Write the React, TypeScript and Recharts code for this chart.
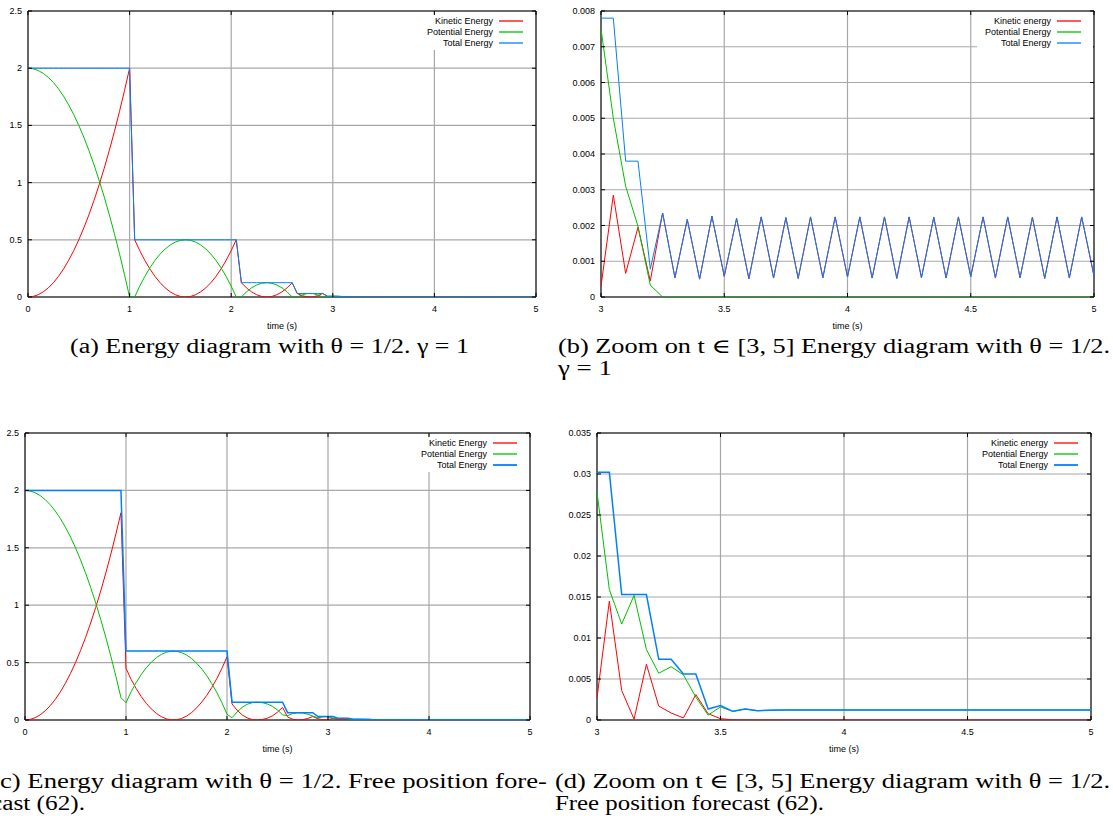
import { CartesianGrid, Legend, Line, LineChart, ReferenceArea, XAxis, YAxis } from "recharts"

// sample times (s), step 0.05
const timeEarly = [
  0, 0.05, 0.1, 0.15, 0.2, 0.25, 0.3, 0.35, 0.4, 0.45, 0.5, 0.55, 0.6, 0.65, 0.7, 0.75, 0.8, 0.85, 0.9, 0.95,
  1, 1.05, 1.1, 1.15, 1.2, 1.25, 1.3, 1.35, 1.4, 1.45, 1.5, 1.55, 1.6, 1.65, 1.7, 1.75, 1.8, 1.85, 1.9, 1.95,
  2, 2.05, 2.1, 2.15, 2.2, 2.25, 2.3, 2.35, 2.4, 2.45, 2.5, 2.55, 2.6, 2.65, 2.7, 2.75, 2.8, 2.85, 2.9, 2.95,
]
const timeZoom = [
  3, 3.05, 3.1, 3.15, 3.2, 3.25, 3.3, 3.35, 3.4, 3.45, 3.5, 3.55, 3.6, 3.65, 3.7, 3.75, 3.8, 3.85, 3.9, 3.95,
  4, 4.05, 4.1, 4.15, 4.2, 4.25, 4.3, 4.35, 4.4, 4.45, 4.5, 4.55, 4.6, 4.65, 4.7, 4.75, 4.8, 4.85, 4.9, 4.95, 5,
]

// (a) gamma = 1, t in [0, 3)
const kineticA = [
  0, 0.005, 0.02, 0.045, 0.08, 0.125, 0.18, 0.245, 0.32, 0.405, 0.5, 0.605, 0.72, 0.845, 0.98, 1.125, 1.28, 1.445, 1.62, 1.805,
  2, 0.5, 0.405, 0.32, 0.245, 0.18, 0.125, 0.08, 0.045, 0.02, 0.005, 0, 0.005, 0.02, 0.045, 0.08, 0.125, 0.18, 0.245, 0.32,
  0.405, 0.5, 0.125, 0.08, 0.045, 0.02, 0.005, 0, 0.005, 0.02, 0.045, 0.08, 0.125, 0.031, 0.011, 0.001, 0.001, 0.011, 0.031, 0.0033,
]
const potentialA = [
  2, 1.995, 1.98, 1.955, 1.92, 1.875, 1.82, 1.755, 1.68, 1.595, 1.5, 1.395, 1.28, 1.155, 1.02, 0.875, 0.72, 0.555, 0.38, 0.195,
  0, 0, 0.095, 0.18, 0.255, 0.32, 0.375, 0.42, 0.455, 0.48, 0.495, 0.5, 0.495, 0.48, 0.455, 0.42, 0.375, 0.32, 0.255, 0.18,
  0.095, 0, 0, 0.045, 0.08, 0.105, 0.12, 0.125, 0.12, 0.105, 0.08, 0.045, 0, 0, 0.02, 0.03, 0.03, 0.02, 0, 0.0045,
]
const totalA = [
  2, 2, 2, 2, 2, 2, 2, 2, 2, 2, 2, 2, 2, 2, 2, 2, 2, 2, 2, 2,
  2, 0.5, 0.5, 0.5, 0.5, 0.5, 0.5, 0.5, 0.5, 0.5, 0.5, 0.5, 0.5, 0.5, 0.5, 0.5, 0.5, 0.5, 0.5, 0.5,
  0.5, 0.5, 0.125, 0.125, 0.125, 0.125, 0.125, 0.125, 0.125, 0.125, 0.125, 0.125, 0.125, 0.031, 0.031, 0.031, 0.031, 0.031, 0.031, 0.0078,
]

// (b) zoom of (a) on [3, 5]
const kineticB = [
  0.0003, 0.00285, 0.00066, 0.00195, 0.00045, 0.00235, 0.00054, 0.00217, 0.0005, 0.00226, 0.00058, 0.0022, 0.00051, 0.00224,
  0.00053, 0.00222, 0.00052, 0.00224, 0.00054, 0.00224, 0.00056, 0.00224, 0.00053, 0.00224, 0.00052, 0.00224, 0.00054, 0.00223,
  0.00053, 0.00224, 0.00057, 0.00224, 0.00053, 0.00224, 0.00054, 0.00223, 0.00052, 0.00224, 0.00053, 0.00224, 0.00059,
]
const potentialB = [
  0.0075, 0.005, 0.0031, 0.00198, 0.00033, 0, 0, 0, 0, 0, 0, 0, 0, 0, 0, 0, 0, 0, 0, 0,
  0, 0, 0, 0, 0, 0, 0, 0, 0, 0, 0, 0, 0, 0, 0, 0, 0, 0, 0, 0, 0,
]
const totalB = [
  0.0078, 0.0078, 0.0038, 0.0038, 0.00078, 0.00235, 0.00054, 0.00217, 0.0005, 0.00226, 0.00058, 0.0022, 0.00051, 0.00224,
  0.00053, 0.00222, 0.00052, 0.00224, 0.00054, 0.00224, 0.00056, 0.00224, 0.00053, 0.00224, 0.00052, 0.00224, 0.00054, 0.00223,
  0.00053, 0.00224, 0.00057, 0.00224, 0.00053, 0.00224, 0.00054, 0.00223, 0.00052, 0.00224, 0.00053, 0.00224, 0.00059,
]

// (c) free position forecast, t in [0, 3)
const kineticC = [
  0, 0.005, 0.02, 0.045, 0.08, 0.125, 0.18, 0.245, 0.32, 0.405, 0.5, 0.605, 0.72, 0.845, 0.98, 1.125, 1.28, 1.445, 1.62, 1.805,
  0.45, 0.355, 0.275, 0.205, 0.146, 0.097, 0.058, 0.029, 0.01, 0.001, 0.002, 0.013, 0.034, 0.065, 0.106, 0.156, 0.215, 0.284, 0.362, 0.45,
  0.55, 0.14, 0.085, 0.045, 0.018, 0.004, 0, 0.004, 0.016, 0.036, 0.068, 0.11, 0.026, 0.007, 0, 0.003, 0.014, 0.03, 0.011, 0.002,
]
const potentialC = [
  2, 1.995, 1.98, 1.955, 1.92, 1.875, 1.82, 1.755, 1.68, 1.595, 1.5, 1.395, 1.28, 1.155, 1.02, 0.875, 0.72, 0.555, 0.38, 0.195,
  0.15, 0.245, 0.325, 0.395, 0.454, 0.503, 0.542, 0.571, 0.59, 0.599, 0.598, 0.587, 0.566, 0.535, 0.494, 0.444, 0.385, 0.316, 0.238, 0.15,
  0.05, 0.02, 0.07, 0.11, 0.137, 0.151, 0.155, 0.151, 0.139, 0.119, 0.087, 0.045, 0.038, 0.057, 0.064, 0.061, 0.05, 0.034, 0.019, 0.028,
]
const totalC = [
  2, 2, 2, 2, 2, 2, 2, 2, 2, 2, 2, 2, 2, 2, 2, 2, 2, 2, 2, 2,
  0.6, 0.6, 0.6, 0.6, 0.6, 0.6, 0.6, 0.6, 0.6, 0.6, 0.6, 0.6, 0.6, 0.6, 0.6, 0.6, 0.6, 0.6, 0.6, 0.6,
  0.6, 0.155, 0.155, 0.155, 0.155, 0.155, 0.155, 0.155, 0.155, 0.155, 0.155, 0.155, 0.064, 0.064, 0.064, 0.064, 0.064, 0.064, 0.0302, 0.0302,
]

// (d) zoom of (c) on [3, 5]
const kineticD = [
  0.0027, 0.0145, 0.0036, 0.0001, 0.0068, 0.0017, 0.00085, 0.00025, 0.0031, 0.00077, 0.00016, 0.00002, 0, 0, 0, 0, 0, 0, 0, 0,
  0, 0, 0, 0, 0, 0, 0, 0, 0, 0, 0, 0, 0, 0, 0, 0, 0, 0, 0, 0, 0,
]
const potentialD = [
  0.0278, 0.0159, 0.0117, 0.0152, 0.0086, 0.0057, 0.0065, 0.0055, 0.0028, 0.0006, 0.0016, 0.00104, 0.00134, 0.00114, 0.0012, 0.00121,
  0.00122, 0.00122, 0.00122, 0.00122, 0.00122, 0.00122, 0.00122, 0.00122, 0.00122, 0.00122, 0.00122, 0.00122, 0.00122, 0.00122,
  0.00122, 0.00122, 0.00122, 0.00122, 0.00122, 0.00122, 0.00122, 0.00122, 0.00122, 0.00122, 0.00122,
]
const totalD = [
  0.0302, 0.0302, 0.0153, 0.0153, 0.0153, 0.0074, 0.0074, 0.0056, 0.0056, 0.00134, 0.00175, 0.00106, 0.00134, 0.00114, 0.0012, 0.00121,
  0.00122, 0.00122, 0.00122, 0.00122, 0.00122, 0.00122, 0.00122, 0.00122, 0.00122, 0.00122, 0.00122, 0.00122, 0.00122, 0.00122,
  0.00122, 0.00122, 0.00122, 0.00122, 0.00122, 0.00122, 0.00122, 0.00122, 0.00122, 0.00122, 0.00122,
]

const ticksFull = [0, 1, 2, 3, 4, 5]
const ticksZoom = [3, 3.5, 4, 4.5, 5]
const ticksEnergy = [0, 0.5, 1, 1.5, 2, 2.5]
const ticksZoomB = [0, 0.001, 0.002, 0.003, 0.004, 0.005, 0.006, 0.007, 0.008]
const ticksZoomD = [0, 0.005, 0.01, 0.015, 0.02, 0.025, 0.03, 0.035]

const SERIES = ["kinetic", "potential", "total"] as const
const COLORS: Record<string, string> = { kinetic: "#ff0000", potential: "#00c000", total: "#0080ff" }
const SANS = "'Liberation Sans', Arial, Helvetica, sans-serif"
const SERIF = "'Liberation Serif', 'DejaVu Serif', serif"

interface Row {
  t: number
  kinetic: number
  potential: number
  total: number
}

function toRows(time: number[], kinetic: number[], potential: number[], total: number[]): Row[] {
  return time.map((t, i) => ({ t, kinetic: kinetic[i], potential: potential[i], total: total[i] }))
}

const rowsB = toRows(timeZoom, kineticB, potentialB, totalB)
const rowsA = [...toRows(timeEarly, kineticA, potentialA, totalA), ...rowsB]
const rowsD = toRows(timeZoom, kineticD, potentialD, totalD)
const rowsC = [...toRows(timeEarly, kineticC, potentialC, totalC), ...rowsD]

// gnuplot style ticks: label outside, short marks inside on both borders
function YTick(props: any) {
  const { y, payload, plotLeft, plotRight } = props
  return (
    <g>
      <line x1={plotLeft} x2={plotLeft + 4} y1={y} y2={y} stroke="#000" />
      <line x1={plotRight - 4} x2={plotRight} y1={y} y2={y} stroke="#000" />
      <text x={plotLeft - 6} y={y} textAnchor="end" dominantBaseline="central" fontSize={9} fontFamily={SANS} fill="#000">
        {String(payload.value)}
      </text>
    </g>
  )
}

function XTick(props: any) {
  const { x, payload, plotTop, plotBottom } = props
  return (
    <g>
      <line x1={x} x2={x} y1={plotBottom} y2={plotBottom - 4} stroke="#000" />
      <line x1={x} x2={x} y1={plotTop} y2={plotTop + 4} stroke="#000" />
      <text x={x} y={plotBottom + 12} textAnchor="middle" dominantBaseline="central" fontSize={9} fontFamily={SANS} fill="#000">
        {String(payload.value)}
      </text>
    </g>
  )
}

function AxisTitle({ cx, cy }: { cx: number; cy: number }) {
  return (
    <text x={cx} y={cy} textAnchor="middle" dominantBaseline="central" fontSize={9} fontFamily={SANS} fill="#000">
      time (s)
    </text>
  )
}

// key box with white background, text right-aligned then a short line sample
function Key({ names, totalWidth }: { names: string[]; totalWidth: number }) {
  return (
    <div style={{ background: "#fff", padding: "1px 12px 2px 8px", fontFamily: SANS, fontSize: 9, color: "#000" }}>
      {SERIES.map((key, i) => (
        <div
          key={key}
          style={{ display: "flex", alignItems: "center", justifyContent: "flex-end", height: 10.7, whiteSpace: "nowrap" }}
        >
          <span>{names[i]}</span>
          <svg width={24} height={4} style={{ marginLeft: 6, display: "block" }}>
            <line x1={0} x2={24} y1={2} y2={2} stroke={COLORS[key]} strokeWidth={key === "total" ? totalWidth + 0.3 : 1.3} />
          </svg>
        </div>
      ))}
    </div>
  )
}

interface PanelProps {
  rows: Row[]
  x: number
  y: number
  width: number
  height: number
  plot: { left: number; right: number; top: number; bottom: number }
  xDomain: [number, number]
  xTicks: number[]
  yDomain: [number, number]
  yTicks: number[]
  names: string[]
  totalWidth: number
}

function EnergyPanel(p: PanelProps) {
  const { left, right, top, bottom } = p.plot
  return (
    <div style={{ position: "absolute", left: p.x, top: p.y }}>
      <LineChart width={p.width} height={p.height} data={p.rows} margin={{ top, right: p.width - right, bottom: 0, left: 0 }}>
        <CartesianGrid stroke="#a8a8a8" strokeWidth={1.2} />
        <XAxis
          dataKey="t"
          type="number"
          domain={p.xDomain}
          ticks={p.xTicks}
          interval={0}
          allowDataOverflow
          height={p.height - bottom}
          axisLine={false}
          tickLine={false}
          tick={(props: any) => <XTick {...props} plotTop={top} plotBottom={bottom} />}
          label={<AxisTitle cx={(left + right) / 2} cy={bottom + 29} />}
        />
        <YAxis
          type="number"
          domain={p.yDomain}
          ticks={p.yTicks}
          interval={0}
          allowDataOverflow
          width={left}
          axisLine={false}
          tickLine={false}
          tick={(props: any) => <YTick {...props} plotLeft={left} plotRight={right} />}
        />
        <ReferenceArea
          x1={p.xDomain[0]}
          x2={p.xDomain[1]}
          y1={p.yDomain[0]}
          y2={p.yDomain[1]}
          fill="none"
          fillOpacity={0}
          stroke="#000"
          strokeWidth={1}
          ifOverflow="visible"
        />
        <Legend
          layout="horizontal"
          align="center"
          verticalAlign="middle"
          wrapperStyle={{ top: top + 4, right: p.width - right + 1, left: "auto", bottom: "auto", width: "auto", height: "auto" }}
          content={() => <Key names={p.names} totalWidth={p.totalWidth} />}
        />
        <Line dataKey="kinetic" name={p.names[0]} stroke={COLORS.kinetic} strokeWidth={1} dot={false} activeDot={false} isAnimationActive={false} />
        <Line dataKey="potential" name={p.names[1]} stroke={COLORS.potential} strokeWidth={1} dot={false} activeDot={false} isAnimationActive={false} />
        <Line dataKey="total" name={p.names[2]} stroke={COLORS.total} strokeWidth={p.totalWidth} dot={false} activeDot={false} isAnimationActive={false} />
      </LineChart>
    </div>
  )
}

// sub-figure captions, set like the LaTeX page (first column is clipped on the left in the source)
function Captions() {
  const fit = { lengthAdjust: "spacingAndGlyphs" as const }
  return (
    <svg
      width={1113}
      height={819}
      style={{ position: "absolute", left: 0, top: 0, pointerEvents: "none" }}
      fontFamily={SERIF}
      fontSize={20}
      fill="#000"
    >
      <text x={70} y={353} textLength={399} {...fit}>
        (a) Energy diagram with θ = 1/2. γ = 1
      </text>
      <text x={558} y={353} textLength={552} {...fit}>
        (b) Zoom on t ∈ [3, 5] Energy diagram with θ = 1/2.
      </text>
      <text x={558} y={375} textLength={54} {...fit}>
        γ = 1
      </text>
      <text x={-9} y={788} textLength={556} {...fit}>
        (c) Energy diagram with θ = 1/2. Free position fore-
      </text>
      <text x={-9} y={810} textLength={94} {...fit}>
        cast (62).
      </text>
      <text x={555} y={788} textLength={555} {...fit}>
        (d) Zoom on t ∈ [3, 5] Energy diagram with θ = 1/2.
      </text>
      <text x={555} y={810} textLength={269} {...fit}>
        Free position forecast (62).
      </text>
    </svg>
  )
}

export default function App() {
  return (
    <div style={{ position: "absolute", left: 0, top: 0, width: 1113, height: 819, background: "#fff", overflow: "hidden" }}>
      <Captions />
      <EnergyPanel
        rows={rowsA}
        x={0}
        y={0}
        width={560}
        height={340}
        plot={{ left: 28, right: 536, top: 11, bottom: 297 }}
        xDomain={[0, 5]}
        xTicks={ticksFull}
        yDomain={[0, 2.5]}
        yTicks={ticksEnergy}
        names={["Kinetic Energy", "Potential Energy", "Total Energy"]}
        totalWidth={1}
      />
      <EnergyPanel
        rows={rowsB}
        x={555}
        y={0}
        width={558}
        height={340}
        plot={{ left: 46, right: 539, top: 11, bottom: 297 }}
        xDomain={[3, 5]}
        xTicks={ticksZoom}
        yDomain={[0, 0.008]}
        yTicks={ticksZoomB}
        names={["Kinetic energy", "Potential Energy", "Total Energy"]}
        totalWidth={1}
      />
      <EnergyPanel
        rows={rowsC}
        x={0}
        y={420}
        width={555}
        height={340}
        plot={{ left: 25, right: 530, top: 13, bottom: 300 }}
        xDomain={[0, 5]}
        xTicks={ticksFull}
        yDomain={[0, 2.5]}
        yTicks={ticksEnergy}
        names={["Kinetic Energy", "Potential Energy", "Total Energy"]}
        totalWidth={1.5}
      />
      <EnergyPanel
        rows={rowsD}
        x={555}
        y={420}
        width={558}
        height={340}
        plot={{ left: 42, right: 536, top: 13, bottom: 300 }}
        xDomain={[3, 5]}
        xTicks={ticksZoom}
        yDomain={[0, 0.035]}
        yTicks={ticksZoomD}
        names={["Kinetic energy", "Potential Energy", "Total Energy"]}
        totalWidth={1.5}
      />
    </div>
  )
}
